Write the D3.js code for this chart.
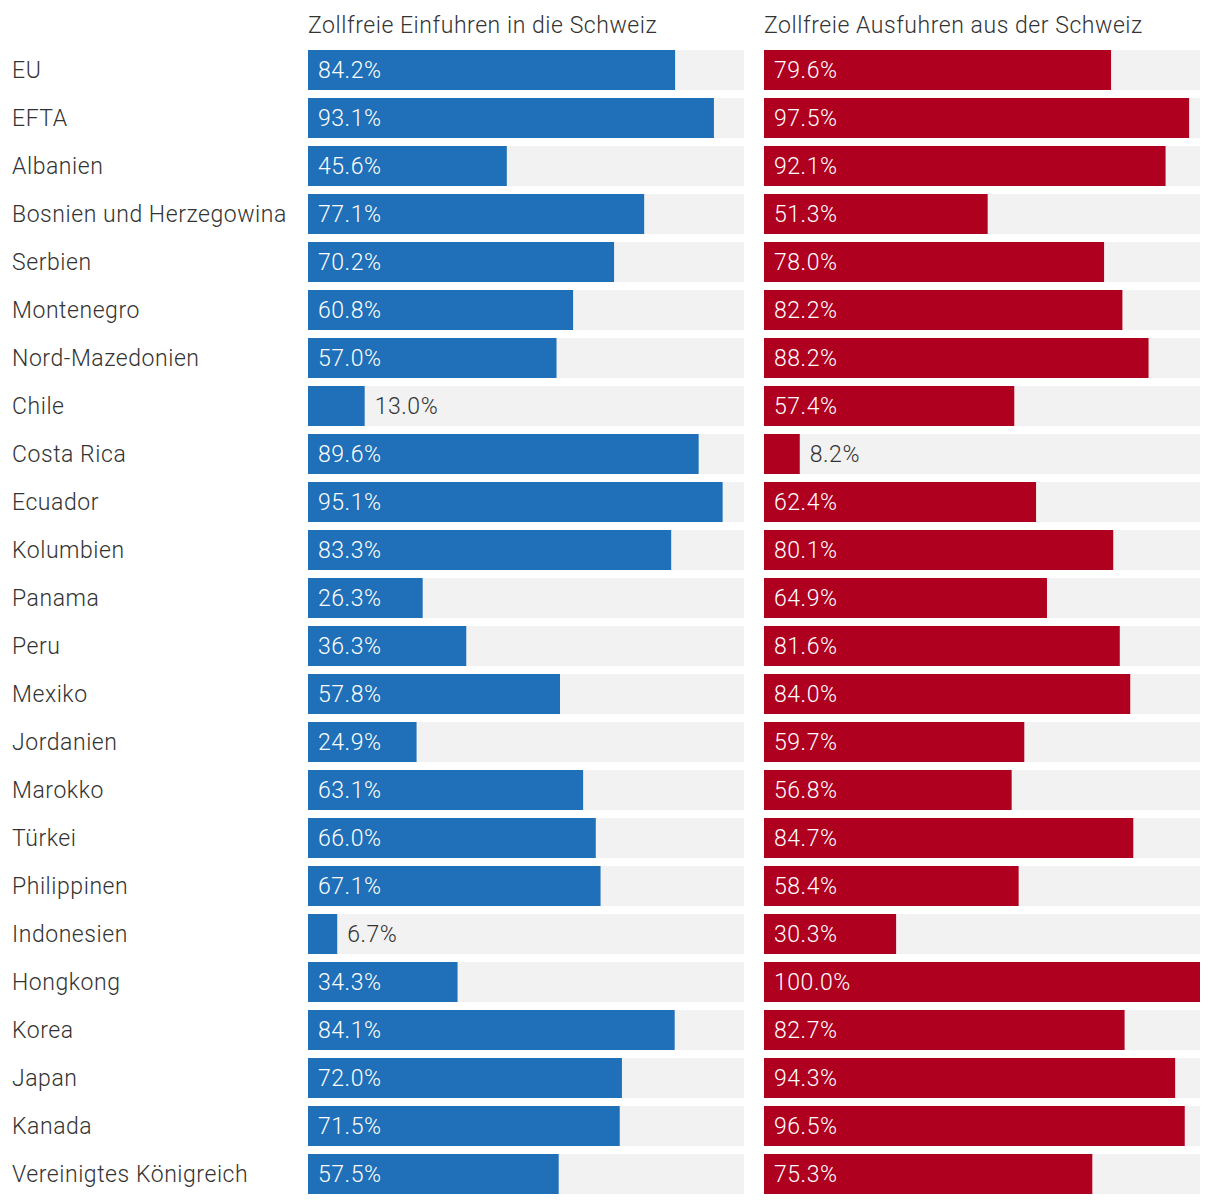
<!DOCTYPE html>
<html><head><meta charset="utf-8">
<script src="https://cdn.jsdelivr.net/npm/d3@7"></script>
<style>
body{margin:0;background:#fff;}
text{font-family:Roboto,"Noto Sans",sans-serif;font-weight:300;letter-spacing:0.55px;}
</style></head>
<body><svg id="c" width="1220" height="1204"></svg>
<script>
const countries = ["EU","EFTA","Albanien","Bosnien und Herzegowina","Serbien","Montenegro","Nord-Mazedonien","Chile","Costa Rica","Ecuador","Kolumbien","Panama","Peru","Mexiko","Jordanien","Marokko","Türkei","Philippinen","Indonesien","Hongkong","Korea","Japan","Kanada","Vereinigtes Königreich"];
const imports = [84.2,93.1,45.6,77.1,70.2,60.8,57.0,13.0,89.6,95.1,83.3,26.3,36.3,57.8,24.9,63.1,66.0,67.1,6.7,34.3,84.1,72.0,71.5,57.5];
const exports = [79.6,97.5,92.1,51.3,78.0,82.2,88.2,57.4,8.2,62.4,80.1,64.9,81.6,84.0,59.7,56.8,84.7,58.4,30.3,100.0,82.7,94.3,96.5,75.3];
const titles = ["Zollfreie Einfuhren in die Schweiz","Zollfreie Ausfuhren aus der Schweiz"];
const colors = ["#1f6fb9","#b0001f"];

const svg = d3.select("#c");
const y = d3.scaleBand().domain(countries).range([46,1198]).paddingInner(8/48).paddingOuter(4/48);
const panels = [{x0:308,vals:imports},{x0:764,vals:exports}];
const W = 436;
const FS = 23;

svg.selectAll("text.cat").data(countries).join("text")
  .attr("class","cat").attr("x",12).attr("y",d=>y(d)+y.bandwidth()/2)
  .attr("dominant-baseline","central").attr("font-size",FS).attr("fill","#333").text(d=>d);

panels.forEach((p,i)=>{
  const x = d3.scaleLinear().domain([0,100]).range([p.x0,p.x0+W]);
  const g = svg.append("g");
  g.append("text").attr("x",p.x0).attr("y",33).attr("font-size",FS).attr("fill","#333").text(titles[i]);
  g.selectAll("rect.bg").data(countries).join("rect").attr("class","bg")
    .attr("x",x(0)).attr("width",x(100)-x(0)).attr("y",d=>y(d)).attr("height",y.bandwidth()).attr("fill","#f2f2f2");
  g.selectAll("rect.bar").data(p.vals).join("rect").attr("class","bar")
    .attr("x",x(0)).attr("width",d=>x(d)-x(0)).attr("y",(d,j)=>y(countries[j])).attr("height",y.bandwidth()).attr("fill",colors[i]);
  g.selectAll("text.val").data(p.vals).join("text").attr("class","val")
    .attr("x",d=> d<20 ? x(d)+10 : x(0)+10)
    .attr("y",(d,j)=>y(countries[j])+y.bandwidth()/2)
    .attr("dominant-baseline","central").attr("font-size",FS)
    .attr("fill",d=> d<20 ? "#333" : "#fff")
    .text(d=>d.toFixed(1)+"%");
});
</script></body></html>
